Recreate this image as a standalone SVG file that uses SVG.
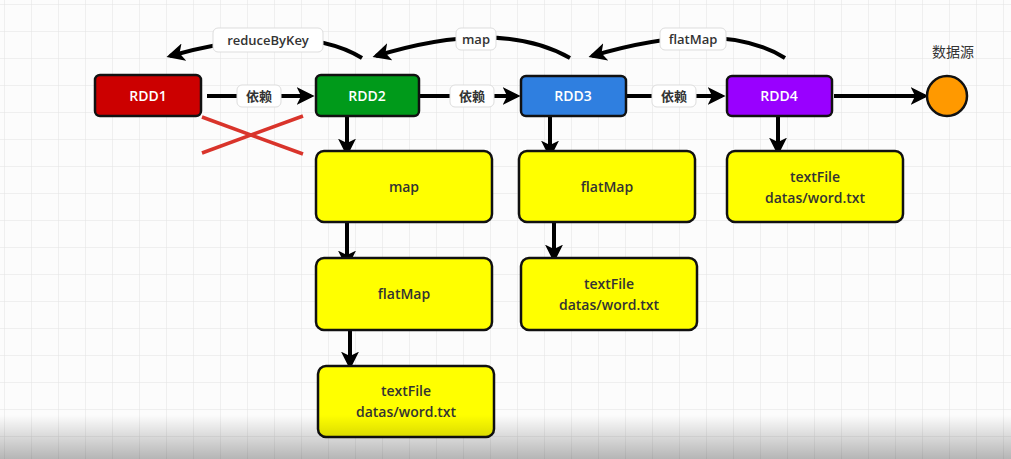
<svg xmlns="http://www.w3.org/2000/svg" width="1011" height="459" viewBox="0 0 1011 459">
<defs>
<pattern id="grid" width="27" height="27" patternUnits="userSpaceOnUse" x="4" y="4">
<path d="M27 0H0V27" fill="none" stroke="#e2e2e2" stroke-width="1"/>
</pattern>
<linearGradient id="shade" x1="0" y1="0" x2="0" y2="1">
<stop offset="0" stop-color="#000" stop-opacity="0"/>
<stop offset="1" stop-color="#000" stop-opacity="0.28"/>
</linearGradient>
<marker id="ah" viewBox="0 0 10 10" refX="8" refY="5" markerWidth="4.5" markerHeight="4.5" orient="auto" markerUnits="strokeWidth">
<path d="M0 0L10 5L0 10L2.5 5Z" fill="#000"/>
</marker>
</defs>
<style>
.rdd{stroke:#111;stroke-width:2.5}
.rt{font-family:"Open Sans","Liberation Sans",sans-serif;font-size:14px;font-weight:600;fill:#fff;text-anchor:middle}
.yb{fill:#ffff00;stroke:#111;stroke-width:2.5}
.yt{font-family:"Open Sans","Liberation Sans",sans-serif;font-size:14px;font-weight:600;fill:#333;text-anchor:middle}
.ln{fill:none;stroke:#000;stroke-width:4}
.lb{fill:#fff;stroke:#ddd;stroke-width:1}
.lt{font-family:"Open Sans","Liberation Sans","Noto Sans CJK SC",sans-serif;font-size:13px;font-weight:600;fill:#333;text-anchor:middle}
.st{font-family:"Noto Sans CJK SC",sans-serif;font-size:14px;font-weight:400;fill:#333;text-anchor:middle}
.x{stroke:#d9342b;stroke-width:3.5}
</style>
<rect width="1011" height="459" fill="#fcfcfc"/>
<rect width="1011" height="459" fill="url(#grid)"/>

<g id="connectors">
<line class="ln" x1="207" y1="96" x2="311" y2="96" marker-end="url(#ah)"/>
<line class="ln" x1="420" y1="96" x2="517" y2="96" marker-end="url(#ah)"/>
<line class="ln" x1="627" y1="96" x2="722" y2="96" marker-end="url(#ah)"/>
<line class="ln" x1="834" y1="96" x2="925" y2="96" marker-end="url(#ah)"/>
<path class="ln" d="M362 58Q300 20 170 56" marker-end="url(#ah)"/>
<path class="ln" d="M570 58Q500 18 376 56" marker-end="url(#ah)"/>
<path class="ln" d="M785 58Q720 18 592 56" marker-end="url(#ah)"/>
<line class="ln" x1="347" y1="116" x2="347" y2="153" marker-end="url(#ah)"/>
<line class="ln" x1="347" y1="223" x2="347" y2="265" marker-end="url(#ah)"/>
<line class="ln" x1="350" y1="322" x2="350" y2="366" marker-end="url(#ah)"/>
<line class="ln" x1="550" y1="116" x2="550" y2="155" marker-end="url(#ah)"/>
<line class="ln" x1="554" y1="215" x2="554" y2="259" marker-end="url(#ah)"/>
<line class="ln" x1="778" y1="116" x2="778" y2="152" marker-end="url(#ah)"/>
<rect class="lb" x="237" y="85" width="44" height="22" rx="5"/>
<text class="lt" x="259" y="101">依赖</text>
<rect class="lb" x="450" y="85" width="44" height="22" rx="5"/>
<text class="lt" x="472" y="101">依赖</text>
<rect class="lb" x="652" y="85" width="44" height="22" rx="5"/>
<text class="lt" x="674" y="101">依赖</text>
<rect class="lb" x="213" y="28" width="110" height="24" rx="5"/>
<text class="lt" x="268" y="45">reduceByKey</text>
<rect class="lb" x="456" y="28" width="40" height="22" rx="5"/>
<text class="lt" x="476" y="44">map</text>
<rect class="lb" x="660" y="28" width="66" height="22" rx="5"/>
<text class="lt" x="693" y="44">flatMap</text>
<line class="x" x1="202" y1="117" x2="303" y2="154"/>
<line class="x" x1="202" y1="153" x2="303" y2="116"/>
</g>

<g id="rdd1"><rect class="rdd" x="95" y="75" width="106" height="41" rx="5" fill="#cc0000"/><text class="rt" x="148" y="101">RDD1</text></g>
<g id="rdd2"><rect class="rdd" x="316" y="75" width="103" height="41" rx="5" fill="#009a1a"/><text class="rt" x="367" y="101">RDD2</text></g>
<g id="rdd3"><rect class="rdd" x="521" y="76" width="105" height="40" rx="5" fill="#2f7fe0"/><text class="rt" x="573" y="101">RDD3</text></g>
<g id="rdd4"><rect class="rdd" x="727" y="76" width="105" height="40" rx="5" fill="#9900ff"/><text class="rt" x="779" y="101">RDD4</text></g>
<g id="source"><circle cx="947" cy="96" r="20" fill="#ff9900" stroke="#111" stroke-width="2.5"/><text class="st" x="953" y="57">数据源</text></g>

<g id="map2"><rect class="yb" x="316" y="151" width="176" height="71" rx="8"/><text class="yt" x="404" y="192">map</text></g>
<g id="flatmap2"><rect class="yb" x="316" y="258" width="176" height="72" rx="8"/><text class="yt" x="404" y="299">flatMap</text></g>
<g id="textfile2"><rect class="yb" x="318" y="366" width="176" height="71" rx="8"/><text class="yt" x="406" y="396">textFile</text><text class="yt" x="406" y="417">datas/word.txt</text></g>
<g id="flatmap3"><rect class="yb" x="519" y="151" width="176" height="71" rx="8"/><text class="yt" x="607" y="192">flatMap</text></g>
<g id="textfile3"><rect class="yb" x="521" y="258" width="176" height="72" rx="8"/><text class="yt" x="609" y="289">textFile</text><text class="yt" x="609" y="310">datas/word.txt</text></g>
<g id="textfile4"><rect class="yb" x="727" y="151" width="176" height="71" rx="8"/><text class="yt" x="815" y="182">textFile</text><text class="yt" x="815" y="203">datas/word.txt</text></g>

<rect x="0" y="415" width="1011" height="44" fill="url(#shade)"/>
</svg>
